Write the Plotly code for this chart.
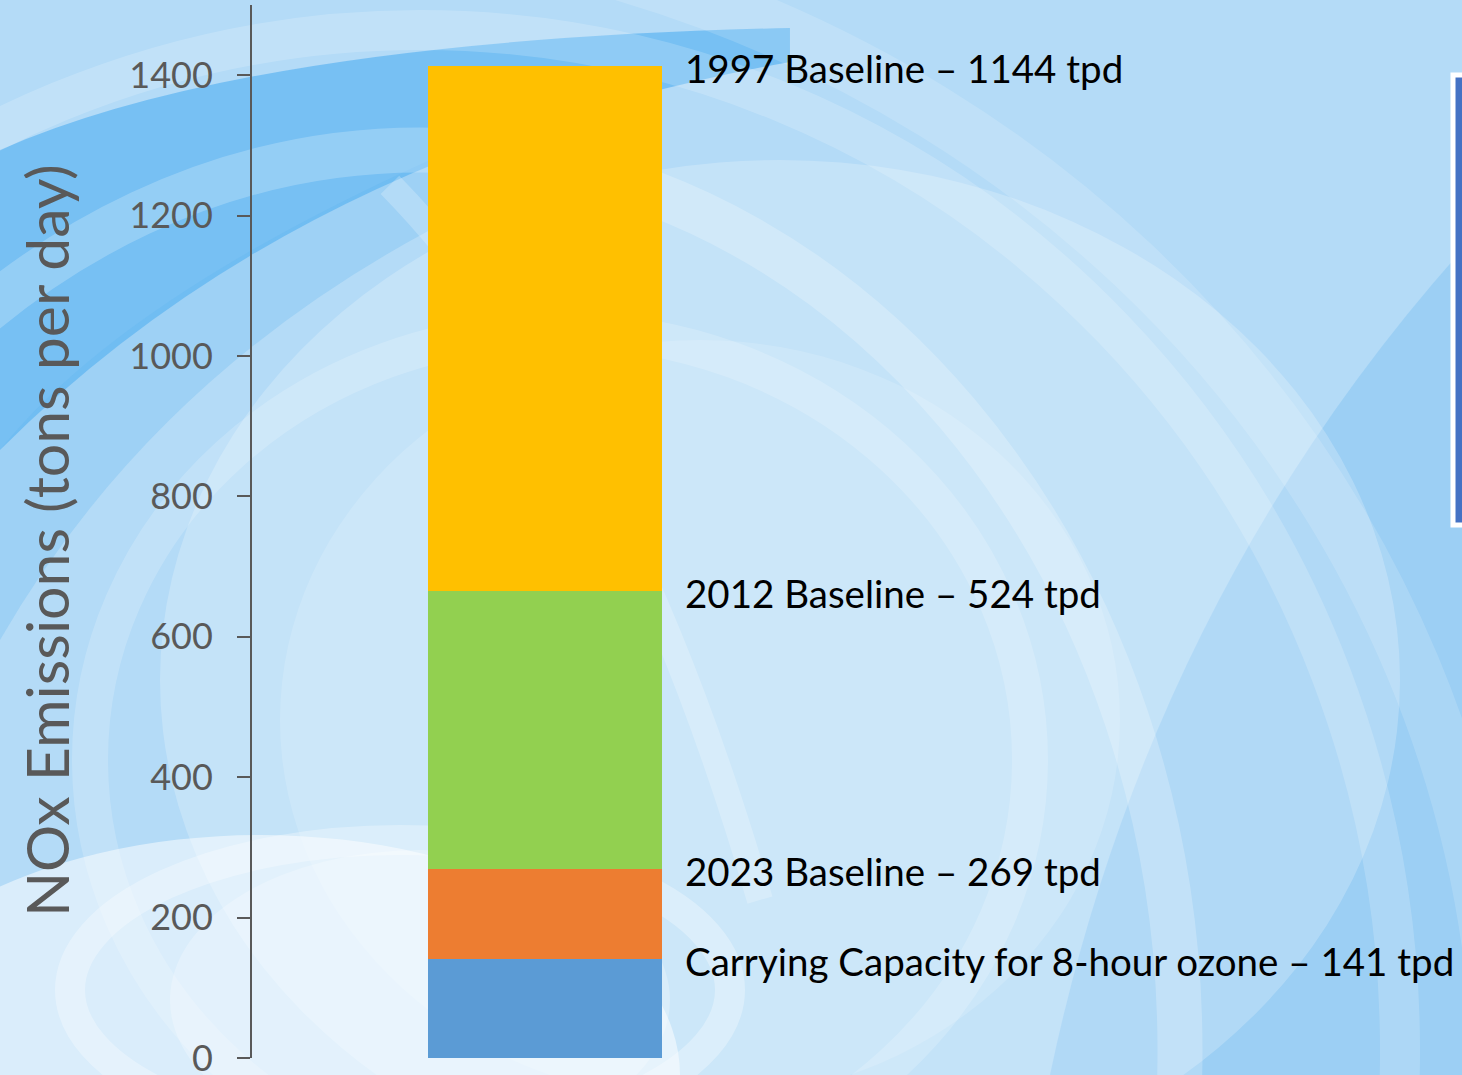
import plotly.graph_objects as go

# ---- data ----
segment_names = ["Carrying Capacity", "2023 Baseline", "2012 Baseline", "1997 Baseline"]
segment_values = [141, 128, 396, 748]          # stacked heights (tons per day)
segment_colors = ["#5B9BD5", "#ED7D31", "#92D050", "#FFC000"]
label_texts = [
    "Carrying Capacity for 8-hour ozone \u2013 141 tpd",
    "2023 Baseline \u2013 269 tpd",
    "2012 Baseline \u2013 524 tpd",
    "1997 Baseline \u2013 1144 tpd",
]
y_ticks = [0, 200, 400, 600, 800, 1000, 1200, 1400]

W, H = 1462, 1075
L, R, T, B = 252, 0, 5, 17
PW, PH = W - L - R, H - T - B


def P(x, y):
    return (x - L) / PW, (H - B - y) / PH


fig = go.Figure()
bar_x = 293
for name, v, c in zip(segment_names, segment_values, segment_colors):
    fig.add_trace(go.Bar(x=[bar_x], y=[v], name=name, marker=dict(color=c, line=dict(width=0)),
                         width=234, showlegend=False, hoverinfo="y+name"))

# labels at cumulative tops
cum = 0
annotations = []
for v, t in zip(segment_values, label_texts):
    cum += v
    annotations.append(dict(x=431, y=cum, xref="x", yref="y", text=t, showarrow=False,
                            xanchor="left", yanchor="middle", yshift=-2,
                            font=dict(family="Lato", size=38.5, color="#000000")))

ax, ay = P(46, 541)
annotations.append(dict(x=ax, y=ay, xref="paper", yref="paper", text="NOx Emissions (tons per day)",
                        textangle=-90, showarrow=False, xanchor="center", yanchor="middle",
                        font=dict(family="Lato", size=59, color="#595959")))

# ---- background decoration ----
shapes = []


def circ(cx, cy, rx, ry, fill="rgba(0,0,0,0)", line="rgba(0,0,0,0)", lw=0):
    x0, y0 = P(cx - rx, cy + ry)
    x1, y1 = P(cx + rx, cy - ry)
    shapes.append(dict(type="circle", xref="paper", yref="paper", x0=x0, y0=y0, x1=x1, y1=y1,
                       fillcolor=fill, line=dict(color=line, width=lw), layer="below"))


def path(pts_cmd, color, lw, fill="rgba(0,0,0,0)", close=False):
    s = ""
    for cmd, pts in pts_cmd:
        s += cmd + " " + " ".join("%.4f,%.4f" % P(*p) for p in pts) + " "
    if close:
        s += "Z"
    shapes.append(dict(type="path", xref="paper", yref="paper", path=s.strip(),
                       line=dict(color=color, width=lw), fillcolor=fill, layer="below"))


# right side darker blue
path([("M", [(1050, 1075)]), ("Q", [(1150, 600), (1462, 250)]), ("L", [(1462, 1075)])],
     "rgba(0,0,0,0)", 0, fill="rgba(120,190,240,0.40)", close=True)
# light centre glow
circ(780, 680, 620, 520, fill="rgba(255,255,255,0.22)")
circ(700, 720, 420, 380, fill="rgba(255,255,255,0.15)")
# bottom-left light blob
circ(260, 1075, 420, 240, fill="rgba(255,255,255,0.5)")
circ(420, 1000, 250, 150, fill="rgba(255,255,255,0.25)")
# dark sweeping band top-left
path([("M", [(0, 150)]), ("Q", [(250, 40), (790, 28)]), ("L", [(790, 62)]),
      ("Q", [(300, 150), (0, 450)])],
     "rgba(0,0,0,0)", 0, fill="rgba(70,170,240,0.55)", close=True)
path([("M", [(0, 450)]), ("Q", [(120, 300), (430, 160)]), ("L", [(430, 230)]),
      ("Q", [(150, 380), (0, 640)])],
     "rgba(0,0,0,0)", 0, fill="rgba(90,180,240,0.25)", close=True)
# white translucent concentric bands (top-right)
circ(420, 1050, 760, 900, line="rgba(255,255,255,0.22)", lw=45)
circ(420, 1050, 980, 1020, line="rgba(255,255,255,0.18)", lw=40)
circ(250, 1100, 1250, 1180, line="rgba(255,255,255,0.15)", lw=55)
# swirl rings
circ(560, 760, 470, 430, line="rgba(255,255,255,0.18)", lw=36)
circ(400, 990, 330, 150, line="rgba(255,255,255,0.3)", lw=30)
path([("M", [(390, 185)]), ("Q", [(620, 420), (760, 900)])], "rgba(255,255,255,0.22)", 26)

# partial box on right edge
bx0, by0 = P(1453, 525)
bx1, by1 = P(1520, 75)
shapes.append(dict(type="rect", xref="paper", yref="paper", x0=bx0, y0=by0, x1=bx1, y1=by1,
                   fillcolor="#4472C4", line=dict(color="white", width=5), layer="above"))

fig.update_layout(
    width=W, height=H,
    margin=dict(l=L, r=R, t=T, b=B, pad=0, autoexpand=False),
    paper_bgcolor="#b4dbf7",
    plot_bgcolor="rgba(0,0,0,0)",
    barmode="stack",
    bargap=0,
    shapes=shapes,
    annotations=annotations,
    xaxis=dict(range=[0, PW], visible=False, fixedrange=True, automargin=False),
    yaxis=dict(range=[0, 1500], tickvals=y_ticks, ticks="outside", ticklen=13, tickwidth=2,
               tickcolor="#595959", showline=True, linecolor="#595959", linewidth=2,
               showgrid=False, zeroline=False, ticklabelstandoff=17,
               ticklabeloverflow="allow", automargin=False,
               tickfont=dict(family="Lato", size=36, color="#595959")),
)

fig.write_html("out.html")
